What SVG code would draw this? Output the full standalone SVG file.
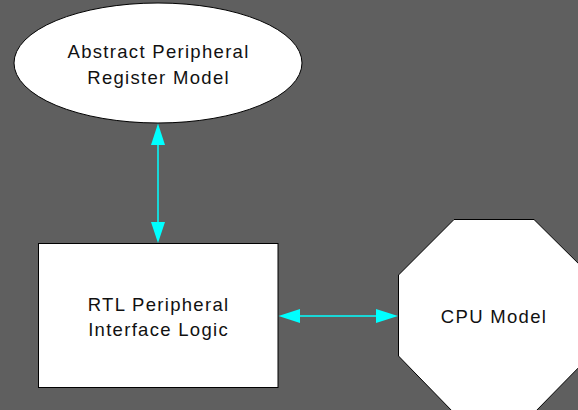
<svg xmlns="http://www.w3.org/2000/svg" width="578" height="410" viewBox="0 0 578 410">
<defs>
<style>
.shape{fill:#ffffff;stroke:#000000;stroke-width:1}
.lbl{font-family:"Liberation Sans",Arial,sans-serif;font-size:18.5px;letter-spacing:1.3px;fill:#111111;text-anchor:middle}
.conn{stroke:#00ffff;stroke-width:1.5;fill:none}
.head{fill:#00ffff}
</style>
</defs>
<rect width="578" height="410" fill="#5f5f5f"/>
<g id="abstract-model">
<ellipse class="shape" cx="158" cy="63" rx="144" ry="60"/>
<text class="lbl" x="158.6" y="57.5">Abstract Peripheral</text>
<text class="lbl" x="158.6" y="83.5">Register Model</text>
</g>
<g id="rtl-logic">
<rect class="shape" x="38.5" y="243.5" width="239.5" height="144"/>
<text class="lbl" x="158.6" y="310.5">RTL Peripheral</text>
<text class="lbl" x="158.6" y="336">Interface Logic</text>
</g>
<g id="cpu-model">
<polygon class="shape" points="454,219.5 534,219.5 590,275 590,356 534,413 454,413 398.5,356 398.5,275"/>
<text class="lbl" x="494" y="323">CPU Model</text>
</g>
<g id="connectors">
<line class="conn" x1="158" y1="143" x2="158" y2="224"/>
<polygon class="head" points="158,123.5 151,145 165,145"/>
<polygon class="head" points="158,243 151,222 165,222"/>
<line class="conn" x1="298" y1="316" x2="378" y2="316"/>
<polygon class="head" points="278.5,316 300,309 300,323"/>
<polygon class="head" points="398,316 376,309 376,323"/>
</g>
</svg>
